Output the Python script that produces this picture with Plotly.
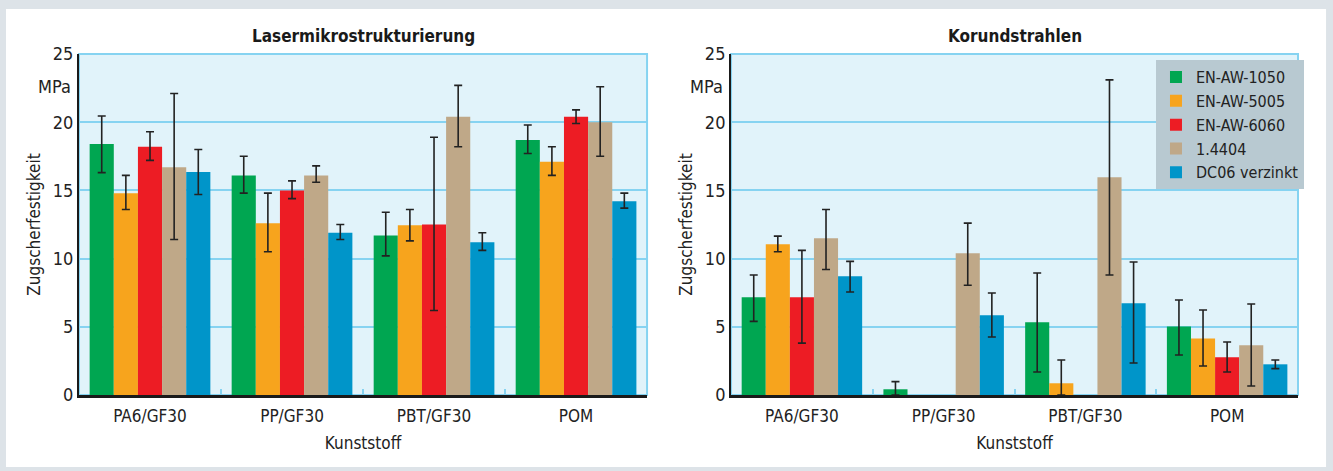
import plotly.graph_objects as go

categories = ["PA6/GF30", "PP/GF30", "PBT/GF30", "POM"]
series_names = ["EN-AW-1050", "EN-AW-5005", "EN-AW-6060", "1.4404", "DC06 verzinkt"]
colors = ["#00a651", "#f7a41d", "#ed1c24", "#bfa888", "#0095c9"]

# Lasermikrostrukturierung: mean, upper end, lower end of error bar
laser_vals = [
    [18.4, 16.1, 11.7, 18.7],
    [14.8, 12.6, 12.45, 17.1],
    [18.2, 15.0, 12.5, 20.4],
    [16.7, 16.1, 20.4, 20.0],
    [16.35, 11.9, 11.2, 14.2],
]
laser_hi = [
    [20.45, 17.5, 13.4, 19.8],
    [16.1, 14.8, 13.6, 18.2],
    [19.3, 15.7, 18.9, 20.9],
    [22.1, 16.8, 22.7, 22.6],
    [18.0, 12.5, 11.9, 14.8],
]
laser_lo = [
    [16.3, 14.8, 10.2, 17.7],
    [13.6, 10.5, 11.3, 16.1],
    [17.2, 14.4, 6.2, 19.9],
    [11.4, 15.6, 18.2, 17.5],
    [14.7, 11.4, 10.6, 13.7],
]

# Korundstrahlen
korund_vals = [
    [7.16, 0.42, 5.33, 5.03],
    [11.05, None, 0.86, 4.15],
    [7.16, None, None, 2.76],
    [11.5, 10.4, 15.96, 3.64],
    [8.7, 5.84, 6.72, 2.25],
]
korund_hi = [
    [8.8, 0.98, 8.94, 6.96],
    [11.65, None, 2.57, 6.23],
    [10.6, None, None, 3.89],
    [13.6, 12.6, 23.1, 6.67],
    [9.8, 7.48, 9.75, 2.57],
]
korund_lo = [
    [5.4, 0.0, 1.69, 2.93],
    [10.5, None, 0.0, 2.13],
    [3.8, None, None, 1.69],
    [9.2, 8.05, 8.8, 0.66],
    [7.55, 4.25, 2.35, 1.93],
]

y_ticks = [0, 5, 10, 15, 20, 25]
FONT = "DejaVu Sans Condensed, Roboto, sans-serif"
GRID = "#86d3f1"
PLOTBG = "#e1f3fa"


def diffs(vals, ends, upper):
    out = []
    for v, e in zip(vals, ends):
        if v is None or e is None:
            out.append(None)
        else:
            out.append(round(e - v, 3) if upper else round(v - e, 3))
    return out


fig = go.Figure()
for panel, (vals, his, los) in enumerate([(laser_vals, laser_hi, laser_lo),
                                           (korund_vals, korund_hi, korund_lo)]):
    xa = "x" if panel == 0 else "x2"
    ya = "y" if panel == 0 else "y2"
    for i, name in enumerate(series_names):
        fig.add_trace(go.Bar(
            x=categories, y=vals[i], name=name,
            marker=dict(color=colors[i], line=dict(width=0)),
            error_y=dict(type="data", symmetric=False,
                         array=diffs(vals[i], his[i], True),
                         arrayminus=diffs(vals[i], los[i], False),
                         color="#222222", thickness=1.6, width=4),
            xaxis=xa, yaxis=ya, showlegend=(panel == 1),
            legendgroup=name,
        ))

axis_common_x = dict(
    type="category", showgrid=False, showline=True, linecolor="#1a1a1a", linewidth=2.5,
    ticks="inside", tickson="boundaries", ticklen=6, tickcolor=GRID, tickwidth=1.5,
    tickfont=dict(family=FONT, size=17, color="#222"), ticklabelstandoff=4,
    title=dict(text="Kunststoff", font=dict(family=FONT, size=17, color="#222"), standoff=12),
    zeroline=False,
)
axis_common_y = dict(
    range=[0, 25], tickvals=y_ticks, ticktext=[str(t) for t in y_ticks],
    showgrid=True, gridcolor=GRID, gridwidth=2,
    showline=True, linecolor="#1a1a1a", linewidth=2,
    ticks="", tickfont=dict(family=FONT, size=18, color="#222"),
    title=dict(text="Zugscherfestigkeit", font=dict(family=FONT, size=17, color="#222"), standoff=8),
    zeroline=False,
)

fig.update_layout(
    width=1333, height=471,
    margin=dict(l=79, r=35, t=54, b=76),
    paper_bgcolor="#dde3e8",
    plot_bgcolor="rgba(0,0,0,0)",
    barmode="group", bargap=0.15, bargroupgap=0,
    xaxis=dict(domain=[0, 0.466], anchor="y", **axis_common_x),
    yaxis=dict(anchor="x", **axis_common_y),
    xaxis2=dict(domain=[0.5349, 1], anchor="y2", **axis_common_x),
    yaxis2=dict(anchor="x2", **axis_common_y),
    legend=dict(x=0.8835, y=0.982, xanchor="left", yanchor="top",
                bgcolor="#b8c9d1", borderwidth=0,
                font=dict(family=FONT, size=16, color="#222"),
                tracegroupgap=0, itemwidth=30),
    showlegend=True,
)

shapes = [
    dict(type="rect", xref="paper", yref="paper", x0=-0.0599, x1=1.0230, y0=-0.211, y1=1.132,
         fillcolor="white", line=dict(width=0), layer="below"),
]
for xr, yr in [("x domain", "y domain"), ("x2 domain", "y2 domain")]:
    shapes.append(dict(type="rect", xref=xr, yref=yr, x0=0, x1=1, y0=0, y1=1,
                       fillcolor=PLOTBG, line=dict(color=GRID, width=2), layer="below"))
fig.update_layout(shapes=shapes)

annotations = []
for xr, title in [("x domain", "Lasermikrostrukturierung"), ("x2 domain", "Korundstrahlen")]:
    annotations.append(dict(xref=xr, yref="paper", x=0.5, y=1.053, text="<b>" + title + "</b>",
                            showarrow=False, font=dict(family=FONT, size=17, color="#1a1a1a"),
                            xanchor="center", yanchor="middle"))
for xr, yr in [("x domain", "y"), ("x2 domain", "y2")]:
    annotations.append(dict(xref=xr, yref=yr, x=0, y=22.6, text="MPa", showarrow=False,
                            xanchor="right", yanchor="middle", xshift=-6,
                            font=dict(family=FONT, size=18, color="#222")))
fig.update_layout(annotations=annotations)

fig.write_html("out.html", config={"displayModeBar": False},
               post_script="document.body.style.margin='0px';")
